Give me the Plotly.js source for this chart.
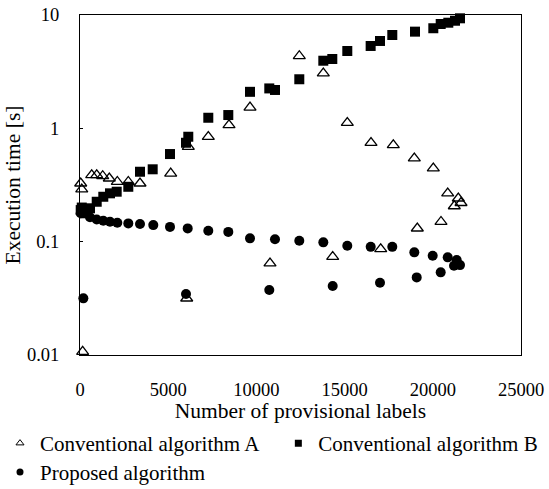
<!DOCTYPE html>
<html>
<head>
<meta charset="utf-8">
<script src="https://cdn.plot.ly/plotly-3.0.1.min.js"></script>
<style>html,body{margin:0;padding:0;background:#fff;}#chart{width:549px;height:489px;}</style>
</head>
<body>
<div id="chart"></div>
<script>
// Conventional algorithm A (open triangles)
const labelsA = [40, 100, 150, 663, 947, 1287, 1661, 2115, 2738, 3401, 5142, 6049, 6139, 7273, 8447, 9637, 10771, 12432, 13793, 14325, 15153, 16497, 17047, 17761, 18952, 19122, 20029, 20465, 20845, 21219, 21446, 21599];
const timeA   = [0.327, 0.29, 0.0107, 0.387, 0.387, 0.38, 0.362, 0.338, 0.338, 0.327, 0.40, 0.0316, 0.689, 0.843, 1.07, 1.53, 0.0644, 4.35, 3.06, 0.0736, 1.12, 0.746, 0.086, 0.712, 0.544, 0.131, 0.444, 0.15, 0.267, 0.206, 0.241, 0.22];
// Conventional algorithm B (filled squares)
const labelsB = [40, 100, 283, 567, 947, 1321, 1701, 2080, 2738, 3401, 4121, 5102, 6009, 6139, 7273, 8407, 9637, 10731, 11054, 12432, 13793, 14303, 15153, 16477, 17007, 17704, 18991, 20029, 20448, 20880, 21259, 21542];
const timeB   = [0.19, 0.2, 0.178, 0.197, 0.225, 0.249, 0.267, 0.276, 0.305, 0.414, 0.435, 0.593, 0.746, 0.843, 1.24, 1.31, 2.1, 2.25, 2.18, 2.71, 3.95, 4.09, 4.81, 5.33, 5.9, 6.66, 7.13, 7.64, 8.33, 8.55, 8.9, 9.35];
// Proposed algorithm (filled circles)
const labelsP = [40, 190, 567, 947, 1321, 1701, 2115, 2738, 3401, 4155, 5102, 6105, 7273, 8407, 9637, 11054, 12432, 13793, 15153, 16480, 17704, 18952, 19994, 20845, 21355, 21202, 21542, 6009, 10731, 14325, 17007, 19088, 20448];
const timeP   = [0.178, 0.0316, 0.164, 0.157, 0.153, 0.150, 0.147, 0.145, 0.143, 0.140, 0.135, 0.131, 0.125, 0.122, 0.107, 0.105, 0.102, 0.0986, 0.092, 0.090, 0.090, 0.0805, 0.0751, 0.0727, 0.0689, 0.0613, 0.0621, 0.0345, 0.0374, 0.0406, 0.0434, 0.0484, 0.0536];

const seriesNames = ['Conventional algorithm A', 'Conventional algorithm B', 'Proposed algorithm'];
const xTicks = [0, 5000, 10000, 15000, 20000, 25000];
const yTicks = [0.01, 0.1, 1, 10];
const yTickText = ['0.01', '0.1', '1', '10'];

const fam = '"Liberation Serif", "Times New Roman", serif';
const tickFont = {family: fam, size: 18.5, color: '#000'};
const titleFont = {family: fam, size: 21.5, color: '#000'};
const legendFont = {family: fam, size: 21, color: '#000'};

const symbols = ['triangle-up-open', 'square', 'circle'];
const legendIds = ['legend', 'legend2', 'legend3'];
const xs = [labelsA, labelsB, labelsP];
const ys = [timeA, timeB, timeP];

const traces = [];
for (let i = 0; i < 3; i++) {
  traces.push({x: xs[i], y: ys[i], name: seriesNames[i], mode: 'markers', type: 'scatter', cliponaxis: false,
    showlegend: false,
    marker: {symbol: symbols[i], size: i === 0 ? 10.5 : 10, color: '#000', line: {width: i === 0 ? 1.3 : 0, color: '#000'}}});
}
// legend-only entries with smaller symbols, as in the reference legend
for (let i = 0; i < 3; i++) {
  traces.push({x: [null], y: [null], name: seriesNames[i], mode: 'markers', type: 'scatter', showlegend: true,
    legend: legendIds[i],
    marker: {symbol: symbols[i], size: 7, color: '#000', line: {width: i === 0 ? 1 : 0, color: '#000'}}});
}

function leg(x, y) {
  return {orientation: 'h', xref: 'container', yref: 'container', x: x, y: y,
    xanchor: 'left', yanchor: 'top', font: legendFont, bgcolor: 'rgba(0,0,0,0)'};
}

const layout = {
  width: 549, height: 489,
  margin: {l: 80, r: 28, t: 15, b: 134},
  paper_bgcolor: '#fff', plot_bgcolor: '#fff',
  font: tickFont,
  showlegend: true,
  legend: leg(-0.02, 0.135),
  legend2: leg(0.507, 0.135),
  legend3: leg(-0.02, 0.076),
  xaxis: {
    range: [0, 25000], tickvals: xTicks, ticktext: xTicks.map(String),
    showgrid: false, zeroline: false, showline: true, linecolor: '#000', linewidth: 1, mirror: true,
    ticks: '', ticklabelstandoff: 18, tickfont: tickFont,
    title: {text: 'Number of provisional labels', font: titleFont, standoff: 2}
  },
  yaxis: {
    type: 'log', range: [-2, 1], tickvals: yTicks, ticktext: yTickText,
    showgrid: false, zeroline: false, showline: true, linecolor: '#000', linewidth: 1, mirror: true,
    ticks: 'inside', ticklen: 3, tickcolor: '#000', ticklabelstandoff: 16, tickfont: tickFont,
    title: {text: 'Execution time [s]', font: titleFont, standoff: 0}
  }
};

Plotly.newPlot('chart', traces, layout, {displayModeBar: false, staticPlot: true});
</script>
</body>
</html>
